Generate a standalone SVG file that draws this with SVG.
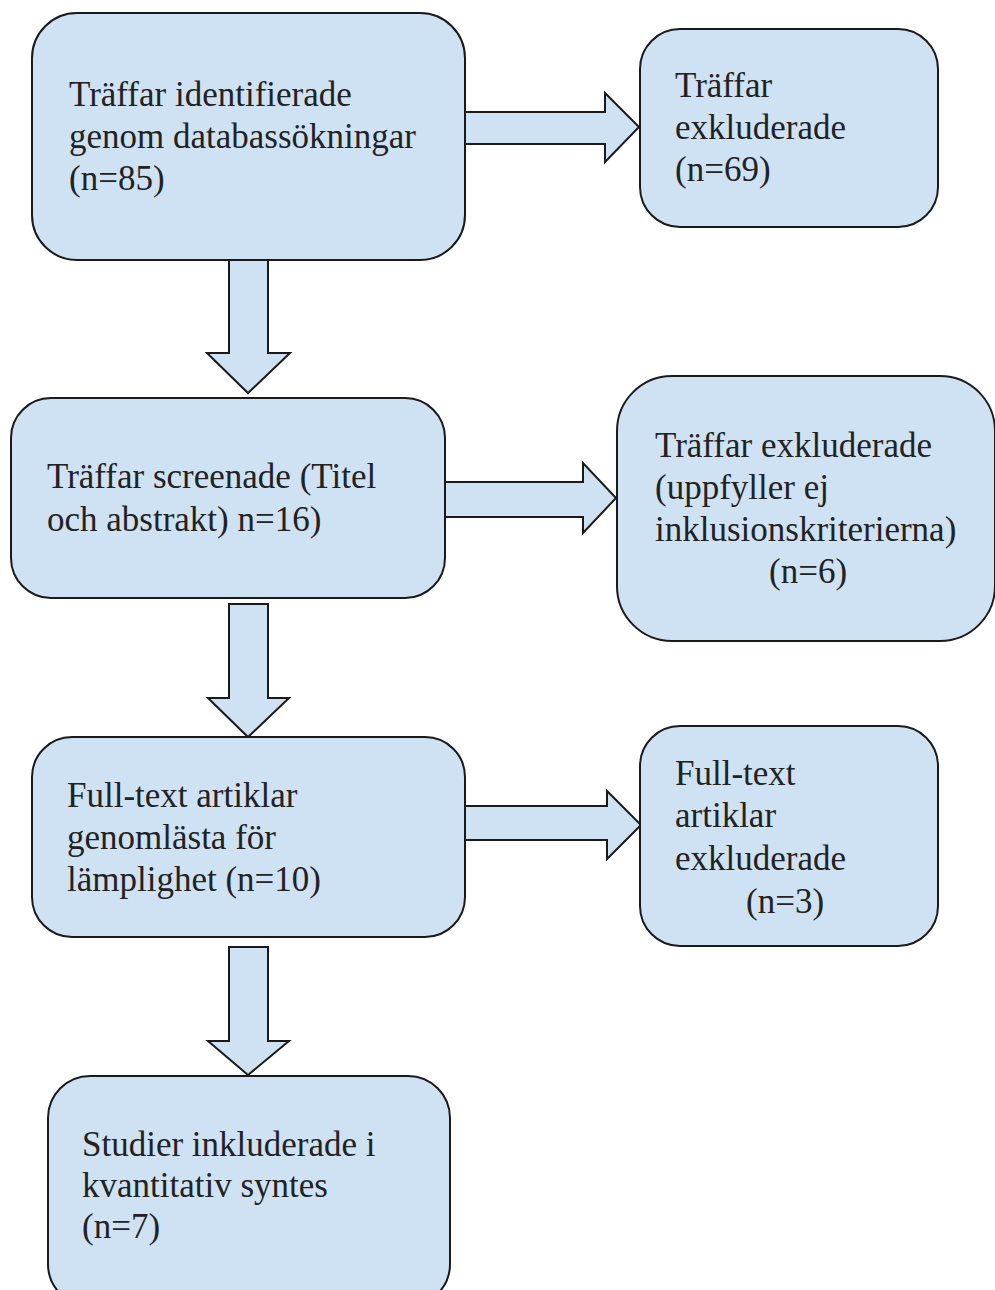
<svg xmlns="http://www.w3.org/2000/svg" width="995" height="1290" viewBox="0 0 995 1290">
<style>
.box{fill:#cfe2f3;stroke:#1a1a1a;stroke-width:2}
.arr{fill:#cfe2f3;stroke:#1a1a1a;stroke-width:2;stroke-linejoin:miter}
.t{font-family:"Liberation Serif","Times New Roman",serif;font-size:35px;fill:#222}
</style>
<rect width="995" height="1290" fill="#ffffff"/>
<g id="connectors">
<polygon class="arr" points="229,260 268,260 268,353 290,353 248,393 207,353 229,353"/>
<polygon class="arr" points="465,112 605,112 605,93 639,127 605,162 605,144 465,144"/>
<polygon class="arr" points="229,604 268,604 268,698 289,698 248,737 208,698 229,698"/>
<polygon class="arr" points="445,482 583,482 583,463 616,498 583,533 583,517 445,517"/>
<polygon class="arr" points="229,947 268,947 268,1041 289,1041 248,1075 208,1041 229,1041"/>
<polygon class="arr" points="465,806 607,806 607,791 641,825 607,859 607,840 465,840"/>
</g>
<g id="n1">
<rect class="box" x="32" y="13" width="433" height="247" rx="45"/>
<text class="t" x="69" y="106">Träffar identifierade</text>
<text class="t" x="69" y="148">genom databassökningar</text>
<text class="t" x="69" y="190">(n=85)</text>
</g>
<g id="n2">
<rect class="box" x="640" y="29" width="298" height="198" rx="40"/>
<text class="t" x="675" y="97">Träffar</text>
<text class="t" x="675" y="139">exkluderade</text>
<text class="t" x="675" y="181">(n=69)</text>
</g>
<g id="n3">
<rect class="box" x="11" y="398" width="434" height="200" rx="40"/>
<text class="t" x="47" y="488">Träffar screenade (Titel</text>
<text class="t" x="47" y="531">och abstrakt) n=16)</text>
</g>
<g id="n4">
<rect class="box" x="617" y="376" width="378" height="265" rx="55"/>
<text class="t" x="655" y="457">Träffar exkluderade</text>
<text class="t" x="655" y="499">(uppfyller ej</text>
<text class="t" x="655" y="541">inklusionskriterierna)</text>
<text class="t" x="769" y="583">(n=6)</text>
</g>
<g id="n5">
<rect class="box" x="32" y="737" width="433" height="200" rx="40"/>
<text class="t" x="67" y="807">Full-text artiklar</text>
<text class="t" x="67" y="849">genomlästa för</text>
<text class="t" x="67" y="891">lämplighet (n=10)</text>
</g>
<g id="n6">
<rect class="box" x="640" y="726" width="298" height="220" rx="40"/>
<text class="t" x="675" y="785">Full-text</text>
<text class="t" x="675" y="827">artiklar</text>
<text class="t" x="675" y="870">exkluderade</text>
<text class="t" x="746" y="913">(n=3)</text>
</g>
<g id="n7">
<rect class="box" x="48" y="1076" width="402" height="230" rx="42"/>
<text class="t" x="82" y="1156">Studier inkluderade i</text>
<text class="t" x="82" y="1197">kvantitativ syntes</text>
<text class="t" x="82" y="1238">(n=7)</text>
</g>
</svg>
